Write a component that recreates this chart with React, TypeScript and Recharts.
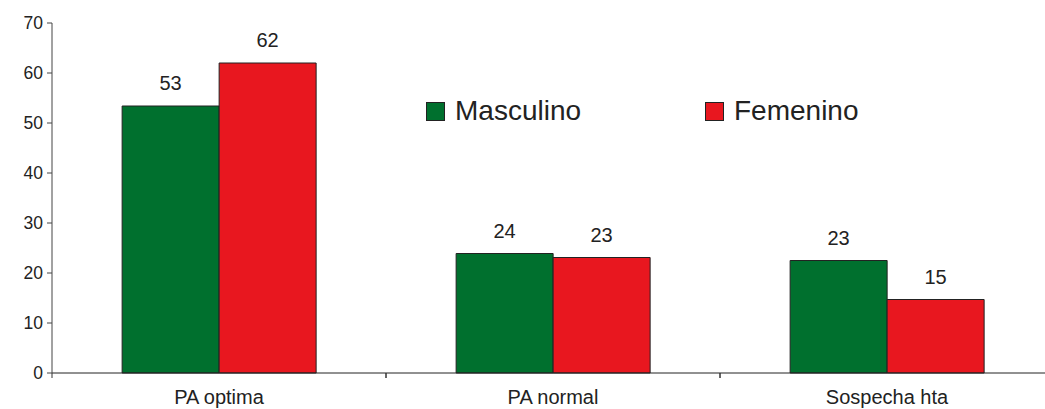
import React from "react";
import {
  BarChart,
  Bar,
  XAxis,
  YAxis,
  LabelList,
} from "recharts";

// values
const categories = ["PA optima", "PA normal", "Sospecha hta"];
const masculino = [53.4, 23.9, 22.5];
const femenino = [62.0, 23.1, 14.7];
const yTicks = [0, 10, 20, 30, 40, 50, 60, 70];

const data = categories.map((name, i) => ({
  name,
  masculino: masculino[i],
  femenino: femenino[i],
}));

const GREEN = "#00702e";
const RED = "#e8171f";
const FONT = "'Liberation Sans', Arial, sans-serif";

const CHART_W = 1060;
const CHART_H = 409;
const Y_AXIS_W = 52;
const MARGIN = { top: 23, right: 6, bottom: 0, left: 0 };
const BAND = (CHART_W - Y_AXIS_W - MARGIN.right) / categories.length;

const CategoryTick = (props: any) => {
  const { x, y, payload } = props;
  const left = x - BAND / 2;
  return (
    <g>
      <line x1={left} y1={y} x2={left} y2={y + 5} stroke="#333" />
      <line x1={left + BAND} y1={y} x2={left + BAND} y2={y + 5} stroke="#333" />
      <text
        x={x}
        y={y + 31}
        textAnchor="middle"
        fontSize={20}
        fontFamily={FONT}
        fill="#222"
      >
        {payload.value}
      </text>
    </g>
  );
};

const legendItems = [
  { label: "Masculino", color: GREEN, left: 426 },
  { label: "Femenino", color: RED, left: 705 },
];

// legend sits inside the plot, drawn as an overlay so it takes no chart space
const LegendBox = () => (
  <>
    {legendItems.map((item) => (
      <div
        key={item.label}
        style={{
          position: "absolute",
          left: item.left,
          top: 95,
          display: "flex",
          alignItems: "center",
          fontFamily: FONT,
          fontSize: 28,
          color: "#222",
        }}
      >
        <span
          style={{
            display: "inline-block",
            width: 17,
            height: 17,
            background: item.color,
            border: "1px solid #222",
            marginRight: 10,
          }}
        />
        <span>{item.label}</span>
      </div>
    ))}
  </>
);

const App: React.FC = () => {
  return (
    <div
      style={{
        position: "absolute",
        left: 0,
        top: 0,
        width: 1045,
        height: 409,
        overflow: "hidden",
        background: "#fff",
      }}
    >
      <BarChart
        width={CHART_W}
        height={CHART_H}
        data={data}
        margin={MARGIN}
        barCategoryGap="21%"
        barGap={0}
      >
        <XAxis
          dataKey="name"
          height={36}
          tickLine={false}
          tickSize={0}
          tickMargin={0}
          axisLine={{ stroke: "#222" }}
          tick={<CategoryTick />}
          interval={0}
        />
        <YAxis
          width={Y_AXIS_W}
          domain={[0, 70]}
          ticks={yTicks}
          interval={0}
          tickSize={5}
          tickMargin={4}
          axisLine={{ stroke: "#444" }}
          tickLine={{ stroke: "#444" }}
          tick={{ fill: "#222", fontSize: 17.5, fontFamily: FONT }}
        />
        <Bar
          dataKey="masculino"
          name="Masculino"
          fill={GREEN}
          stroke="#222"
          strokeWidth={1}
          isAnimationActive={false}
        >
          <LabelList
            dataKey="masculino"
            position="top"
            offset={16}
            formatter={(v: any) => Math.round(Number(v))}
            style={{ fill: "#222", fontSize: 20, fontFamily: FONT }}
          />
        </Bar>
        <Bar
          dataKey="femenino"
          name="Femenino"
          fill={RED}
          stroke="#222"
          strokeWidth={1}
          isAnimationActive={false}
        >
          <LabelList
            dataKey="femenino"
            position="top"
            offset={16}
            formatter={(v: any) => Math.round(Number(v))}
            style={{ fill: "#222", fontSize: 20, fontFamily: FONT }}
          />
        </Bar>
      </BarChart>
      <LegendBox />
    </div>
  );
};

export default App;
